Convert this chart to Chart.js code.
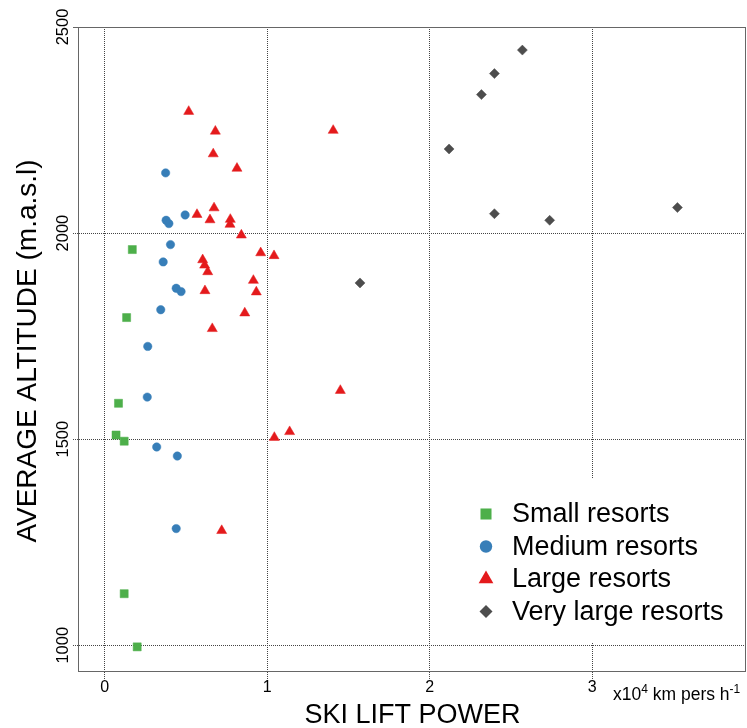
<!DOCTYPE html>
<html>
<head>
<meta charset="utf-8">
<title>Ski resorts</title>
<script src="https://cdn.jsdelivr.net/npm/chart.js@4/dist/chart.umd.min.js"></script>
<style>
  body { margin: 0; background: #fff; }
  #wrap { width: 747px; height: 728px; position: relative; }
</style>
</head>
<body>
<div id="wrap"><canvas id="resortChart"></canvas></div>
<script>
// lift power in x10^4 km pers/h, altitude in m.a.s.l
var smallPower = [0.17, 0.135, 0.085, 0.07, 0.12, 0.12, 0.2];
var smallAltitude = [1960, 1795, 1587, 1510, 1495, 1125, 996];

var mediumPower = [0.375, 0.495, 0.378, 0.395, 0.405, 0.36, 0.44, 0.47, 0.345, 0.265, 0.262, 0.32, 0.447, 0.44];
var mediumAltitude = [2146, 2044, 2031, 2023, 1972, 1930, 1866, 1858, 1814, 1725, 1602, 1481, 1459, 1283];

var largePower = [0.517, 0.681, 0.668, 0.814, 0.673, 0.568, 0.648, 0.773, 0.771, 0.841, 0.96, 1.042, 0.603,
  0.615, 0.634, 0.915, 0.933, 0.617, 0.862, 0.662, 1.406, 1.45, 1.044, 1.138, 0.72];
var largeAltitude = [2295, 2247, 2192, 2157, 2061, 2045, 2032, 2033, 2021, 1995, 1952, 1945, 1935,
  1922, 1906, 1885, 1857, 1860, 1806, 1768, 2249, 1618, 1504, 1518, 1278];

var veryLargePower = [2.57, 2.398, 2.318, 2.119, 2.398, 2.738, 3.524, 1.571];
var veryLargeAltitude = [2444, 2387, 2336, 2204, 2047, 2031, 2062, 1879];

var seriesNames = ["Small resorts", "Medium resorts", "Large resorts", "Very large resorts"];
var seriesColors = ["#4daf4a", "#377eb8", "#e41a1c", "#4d4d4d"];
var seriesShapes = ["rect", "circle", "triangle", "rectRot"];

var xTicks = [0, 1, 2, 3];
var yTicks = [1000, 1500, 2000, 2500];

var FONT = "'Liberation Sans', Arial, sans-serif";

function toPoints(xs, ys) {
  var pts = [];
  for (var i = 0; i < xs.length; i++) {
    pts.push({ x: xs[i], y: ys[i] });
  }
  return pts;
}

var pointRadius = [5.7, 4.2, 5.8, 5];

var datasets = [
  toPoints(smallPower, smallAltitude),
  toPoints(mediumPower, mediumAltitude),
  toPoints(largePower, largeAltitude),
  toPoints(veryLargePower, veryLargeAltitude)
].map(function (pts, i) {
  return {
    label: seriesNames[i],
    data: pts,
    pointStyle: seriesShapes[i],
    pointRadius: pointRadius[i],
    backgroundColor: seriesColors[i],
    borderColor: seriesColors[i],
    borderWidth: 0.5
  };
});

// little marker shapes for the legend
function drawMarker(ctx, shape, x, y, r, color) {
  ctx.save();
  ctx.fillStyle = color;
  ctx.beginPath();
  if (shape === "rect") {
    var s = r * Math.SQRT1_2;
    ctx.rect(x - s, y - s, 2 * s, 2 * s);
  } else if (shape === "circle") {
    ctx.arc(x, y, r, 0, Math.PI * 2);
  } else if (shape === "triangle") {
    ctx.moveTo(x, y - r);
    ctx.lineTo(x + r * Math.sin(Math.PI / 3), y + r / 2);
    ctx.lineTo(x - r * Math.sin(Math.PI / 3), y + r / 2);
    ctx.closePath();
  } else {
    ctx.moveTo(x - r, y);
    ctx.lineTo(x, y - r);
    ctx.lineTo(x + r, y);
    ctx.lineTo(x, y + r);
    ctx.closePath();
  }
  ctx.fill();
  ctx.restore();
}

var framePlugin = {
  id: "frame",
  beforeDatasetsDraw: function (chart) {
    var a = chart.chartArea;
    var ctx = chart.ctx;
    ctx.save();
    ctx.strokeStyle = "#666";
    ctx.lineWidth = 1;
    ctx.strokeRect(Math.round(a.left) - 0.5, Math.round(a.top) + 0.5,
      Math.round(a.right - a.left), Math.round(a.bottom - a.top) - 1);
    // top tick sits on the frame line
    ctx.beginPath();
    ctx.moveTo(a.left - 6, Math.round(a.top) + 0.5);
    ctx.lineTo(a.left, Math.round(a.top) + 0.5);
    ctx.stroke();
    ctx.restore();
  },
  afterDraw: function (chart) {
    var ctx = chart.ctx;
    var xs = chart.scales.x;
    var ys = chart.scales.y;
    ctx.save();
    ctx.fillStyle = "#000";

    // x tick labels
    ctx.font = "16px " + FONT;
    ctx.textAlign = "center";
    ctx.textBaseline = "alphabetic";
    xTicks.forEach(function (v) {
      ctx.fillText(String(v), xs.getPixelForValue(v), 691.5);
    });

    // y tick labels, turned to read upwards
    ctx.font = "16.5px " + FONT;
    yTicks.forEach(function (v) {
      ctx.save();
      ctx.translate(68, ys.getPixelForValue(v));
      ctx.rotate(-Math.PI / 2);
      ctx.fillText(String(v), 0, 0);
      ctx.restore();
    });

    // axis titles
    ctx.font = "27px " + FONT;
    ctx.fillText("SKI LIFT POWER", (chart.chartArea.left + chart.chartArea.right) / 2, 723);
    ctx.save();
    ctx.font = "28px " + FONT;
    ctx.translate(36, 351);
    ctx.rotate(-Math.PI / 2);
    ctx.fillText("AVERAGE ALTITUDE (m.a.s.l)", 0, 0);
    ctx.restore();

    // unit note under the x axis
    ctx.textAlign = "left";
    var ux = 613;
    var uy = 700;
    var parts = [["x10", 17.5, 0], ["4", 12, -7], [" km pers h", 17.5, 0], ["-1", 12, -7]];
    parts.forEach(function (p) {
      ctx.font = p[1] + "px " + FONT;
      ctx.fillText(p[0], ux, uy + p[2]);
      ux += ctx.measureText(p[0]).width;
    });

    // legend on a white box
    ctx.fillStyle = "#fff";
    ctx.fillRect(458, 478, 287, 164);
    var rows = [514, 546.5, 579, 611.5];
    var legendR = [7.8, 6.2, 8.5, 6.5];
    ctx.font = "27px " + FONT;
    ctx.textBaseline = "middle";
    rows.forEach(function (ry, i) {
      drawMarker(ctx, seriesShapes[i], 486, ry, legendR[i], seriesColors[i]);
      ctx.fillStyle = "#000";
      ctx.fillText(seriesNames[i], 512, ry + 1);
    });
    ctx.restore();
  }
};

var gridStyle = {
  color: "#444",
  lineWidth: 1,
  tickBorderDash: [1, 1],
  tickColor: "#444",
  drawTicks: true
};

var ctx = document.getElementById("resortChart");
var chart = new Chart(ctx, {
  type: "scatter",
  data: { datasets: datasets },
  plugins: [framePlugin],
  options: {
    responsive: true,
    maintainAspectRatio: false,
    animation: false,
    layout: { autoPadding: false, padding: { top: 27, right: 1, left: 0, bottom: 0 } },
    plugins: {
      legend: { display: false },
      tooltip: { enabled: false }
    },
    scales: {
      x: {
        type: "linear",
        min: -0.158,
        max: 3.946,
        border: { display: false, dash: [1, 1] },
        grid: Object.assign({}, gridStyle, { tickLength: 8 }),
        ticks: { display: false },
        afterBuildTicks: function (scale) {
          scale.ticks = xTicks.map(function (v) { return { value: v }; });
        },
        afterFit: function (scale) { scale.height = 56; }
      },
      y: {
        type: "linear",
        min: 935,
        max: 2500,
        border: { display: false, dash: [1, 1] },
        grid: Object.assign({}, gridStyle, { tickLength: 6 }),
        ticks: { display: false },
        afterBuildTicks: function (scale) {
          scale.ticks = yTicks.map(function (v) { return { value: v }; });
        },
        afterFit: function (scale) { scale.width = 79; }
      }
    }
  }
});
</script>
</body>
</html>
